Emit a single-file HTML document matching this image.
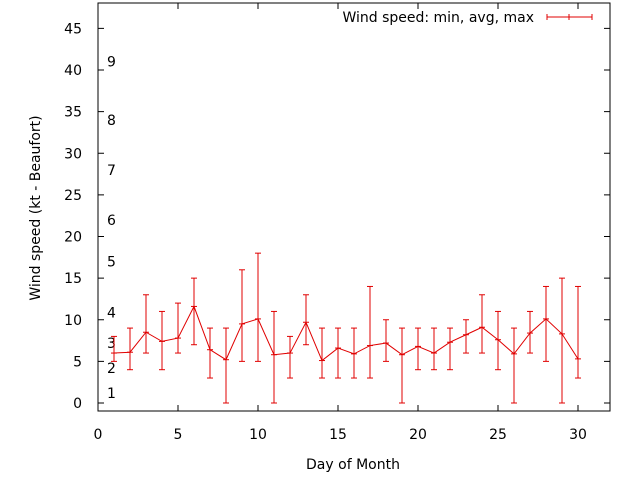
<!DOCTYPE html>
<html><head><meta charset="utf-8"><style>
body{margin:0;background:#fff}
svg text{font-family:"DejaVu Sans","Liberation Sans",sans-serif;font-size:14px;fill:#000}
</style></head><body>
<svg width="640" height="480" id="c">
</svg>
<script>
const days=[1,2,3,4,5,6,7,8,9,10,11,12,13,14,15,16,17,18,19,20,21,22,23,24,25,26,27,28,29,30];
const avgs=[6,6.1,8.5,7.4,7.8,11.6,6.4,5.2,9.5,10.1,5.8,6,9.7,5.1,6.6,5.9,6.9,7.2,5.8,6.8,6,7.3,8.2,9.1,7.6,5.9,8.4,10.1,8.3,5.3];
const mins=[5,4,6,4,6,7,3,0,5,5,0,3,7,3,3,3,3,5,0,4,4,4,6,6,4,0,6,5,0,3];
const maxs=[8,9,13,11,12,15,9,9,16,18,11,8,13,9,9,9,14,10,9,9,9,9,10,13,11,9,11,14,15,14];
const xTicks=[0,5,10,15,20,25,30];
const yTicks=[0,5,10,15,20,25,30,35,40,45];
const bft=["1","2","3","4","5","6","7","8","9"];
const bftVals=[1.2,4.2,7.2,10.9,17,22,28,34,41];
const L=98,R=610,T=3,B=411;
const X=v=>L+v*16;
const Y=v=>403-v*8.325;
const svg=document.getElementById('c');
const NS='http://www.w3.org/2000/svg';
function mk(t,a,p){const e=document.createElementNS(NS,t);for(const k in a)e.setAttribute(k,a[k]);(p||svg).appendChild(e);return e;}
const frame=mk('rect',{x:L,y:T,width:R-L,height:B-T,fill:'none',stroke:'#000','stroke-width':1});


xTicks.forEach(v=>{
  const t=mk('line',{x1:X(v),x2:X(v),y1:B,y2:B-6,stroke:'#000'});
  
  
  mk('line',{x1:X(v),x2:X(v),y1:T,y2:T+6,stroke:'#000'});
  const l=mk('text',{x:X(v),y:439,'text-anchor':'middle'});l.textContent=v;
  
  
});
yTicks.forEach(v=>{
  const t=mk('line',{x1:L,x2:L+6,y1:Y(v),y2:Y(v),stroke:'#000'});
  
  
  mk('line',{x1:R,x2:R-6,y1:Y(v),y2:Y(v),stroke:'#000'});
  const l=mk('text',{x:82,y:Y(v)+5,'text-anchor':'end'});l.textContent=v;
  
  
});
bft.forEach((s,i)=>{
  const l=mk('text',{x:107,y:Y(bftVals[i])+5});l.textContent=s;
  
  
});
const col='#e00000';
days.forEach((d,i)=>{
  const g=mk('g',{stroke:col,'stroke-width':1});
  
  
  mk('line',{x1:X(d),x2:X(d),y1:Y(mins[i]),y2:Y(maxs[i])},g);
  mk('line',{x1:X(d)-3,x2:X(d)+3,y1:Y(mins[i]),y2:Y(mins[i])},g);
  mk('line',{x1:X(d)-3,x2:X(d)+3,y1:Y(maxs[i]),y2:Y(maxs[i])},g);
  mk('line',{x1:X(d)-3,x2:X(d)+3,y1:Y(avgs[i]),y2:Y(avgs[i])},g);
});
const pl=mk('polyline',{points:days.map((d,i)=>X(d)+','+Y(avgs[i])).join(' '),fill:'none',stroke:col,'stroke-width':1});


const lt=mk('text',{x:534,y:22,'text-anchor':'end'});lt.textContent='Wind speed: min, avg, max';


const lg=mk('g',{stroke:col});


mk('line',{x1:547,x2:592,y1:17,y2:17},lg);
mk('line',{x1:547,x2:547,y1:14,y2:20},lg);
mk('line',{x1:592,x2:592,y1:14,y2:20},lg);
mk('line',{x1:569,x2:569,y1:14,y2:20},lg);
const xt=mk('text',{x:353,y:469,'text-anchor':'middle'});xt.textContent='Day of Month';


const yt=mk('text',{x:0,y:0,'text-anchor':'middle',transform:'translate(40,208) rotate(-90)'});yt.textContent='Wind speed (kt - Beaufort)';


</script>
</body></html>
